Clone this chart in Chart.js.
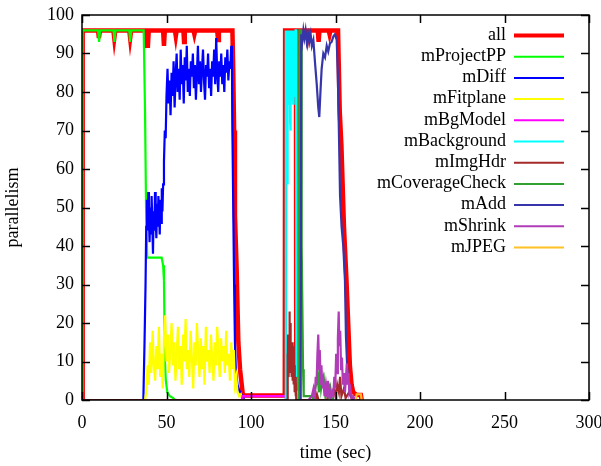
<!DOCTYPE html>
<html>
<head>
<meta charset="utf-8">
<script src="https://cdn.jsdelivr.net/npm/chart.js@4.4.1/dist/chart.umd.min.js"></script>
<style>
  html, body { margin: 0; padding: 0; background: #fff; }
  #wrap { width: 601px; height: 466px; }
</style>
</head>
<body>
<div id="wrap"><canvas id="chart"></canvas></div>
<script>
// series names and colours (legend order)
const seriesNames = ['all', 'mProjectPP', 'mDiff', 'mFitplane', 'mBgModel', 'mBackground',
  'mImgHdr', 'mCoverageCheck', 'mAdd', 'mShrink', 'mJPEG'];
const seriesColors = ['#ff0000', '#00ff00', '#0000ff', '#ffff00', '#ff00ff', '#00ffff',
  '#a52a2a', '#30a030', '#3636aa', '#b03cb8', '#ffc125'];

const xTicks = [0, 50, 100, 150, 200, 250, 300];
const yTicks = [0, 10, 20, 30, 40, 50, 60, 70, 80, 90, 100];

// [time (sec), parallelism]
const all = [[0,0],[0.4,96],[9.5,96],[10,94],[10.6,96],[18.6,96],[19.1,94],[19.7,96],[28,96],[28.5,94],
  [29.1,96],[37.5,96],[38,92],[39,92],[39.5,96],[48,96],[48.5,92],[49,96],[55,96],[55.5,94.5],[56,96],
  [60,96],[60.4,93],[60.8,96],[66,96],[66.5,95],[67,96],[80,96],[80.5,93.5],[81,96],[89,96],[89.5,85],
  [90,70],[90.5,48],[91.5,34],[92.5,15],[93.5,8],[94.5,4],[95.2,1.2],[120,1.2],[120.2,96],[126.6,96],
  [126.8,3],[127.5,3],[127.7,96],[133,96],[133.5,94.5],[134,96],[139.5,96],[140,93],[140.5,96],[146,96],
  [146.5,95],[147,96],[151.5,96],[152.5,75],[153.5,66],[155,45],[156.5,31],[157.5,20],[158.5,9],
  [159.5,4],[160.5,2],[162.5,1.3],[165,1.3],[165.5,0]];

const mProjectPP = [[0,0],[0.3,96],[9.6,96],[10.1,93],[10.7,96],[18.7,96],[19.2,93],[19.8,96],[28,96],
  [28.5,93],[29.2,96],[36.5,96],[37.3,75],[37.9,50],[38.6,37],[47.1,37],[48,35],[48.5,31],[48.8,20],
  [49.1,10],[49.6,5],[50.5,2],[52,1],[54,0.5],[55,0]];

const mDiff = [[0,0],[36.3,0],[37,15],[37.6,30],[38,45],[38.4,52],[38.8,44],[39.2,54],[39.6,47],[40,41],
  [40.4,50],[40.8,43],[41.2,53],[41.6,46],[42,38],[42.4,49],[42.8,44],[43.2,54],[43.6,47],[44,42],
  [44.4,51],[44.8,45],[45.2,53],[45.6,48],[46,43],[46.4,52],[46.8,46],[47.2,55],[47.6,49],[48,56],
  [48.5,62],[49,70],[49.5,68],[50,79],[50.6,86],[51.2,77],[51.8,83],[52.4,74],[53,85],[53.6,79],
  [54.2,88],[54.8,76],[55.4,84],[56,90],[56.6,80],[57.2,86],[57.8,78],[58.4,91],[59,82],[59.6,87],
  [60.2,77],[60.8,89],[61.4,83],[62,92],[62.6,80],[63.2,86],[63.8,79],[64.4,88],[65,84],[65.6,90],
  [66.2,81],[66.8,87],[67.4,78],[68,85],[68.6,92],[69.2,82],[69.8,88],[70.4,80],[71,86],[71.6,91],
  [72.2,83],[72.8,78],[73.4,87],[74,84],[74.6,90],[75.2,81],[75.8,86],[76.4,79],[77,88],[77.6,84],
  [78.2,91],[78.8,82],[79.4,94],[80,85],[80.6,80],[81.2,88],[81.8,84],[82.4,90],[83,82],[83.6,87],
  [84.2,80],[84.8,89],[85.4,85],[86,91],[86.6,83],[87.2,88],[87.8,86],[88.3,92],[88.7,90],[89,70],
  [89.5,50],[90,30],[90.5,15],[91,8],[92,4],[93,2.5],[95,1],[96,0]];

const mFitplane = [[0,0],[37.3,0],[38,2],[38.8,9],[39.5,4],[40.3,15],[41,7],[41.8,18],[42.5,9],[43.3,5],
  [44,14],[44.8,8],[45.5,19],[46.3,6],[47,12],[47.8,3],[48.5,16],[49.2,22],[50,10],[50.8,17],[51.5,7],
  [52.3,13],[53,20],[53.8,9],[54.5,15],[55.3,5],[56,12],[56.8,19],[57.5,8],[58.3,14],[59,4],[59.8,17],
  [60.5,10],[61.3,21],[62,8],[62.8,13],[63.5,6],[64.3,18],[65,11],[65.8,3],[66.5,15],[67.3,9],[68,20],
  [68.8,12],[69.5,6],[70.3,16],[71,8],[71.8,14],[72.5,4],[73.3,19],[74,10],[74.8,13],[75.5,7],[76.3,17],
  [77,11],[77.8,5],[78.5,15],[79.3,9],[80,19],[80.8,12],[81.5,6],[82.3,16],[83,10],[83.8,14],[84.5,7],
  [85.3,18],[86,9],[86.8,12],[87.5,5],[88.3,15],[89,8],[89.8,13],[90.5,4],[91.3,6],[92,2],[93,1],
  [94,1.5],[95,0]];

const mBgModel = [[94.5,0],[95,1],[120.5,1],[120.7,0]];

const mBackground = [[120.4,0],[120.6,96],[120.75,80],[120.9,96],[121.05,78],[121.2,96],[121.35,70],
  [121.5,96],[121.65,56],[121.8,96],[121.95,79],[122.1,96],[122.25,82],[122.4,96],[122.55,77],[122.7,96],
  [122.85,80],[123,96],[123.15,72],[123.3,96],[123.45,70],[123.6,96],[123.75,79],[123.9,96],[124.05,81],
  [124.2,96],[124.35,78],[124.5,96],[124.65,80],[124.8,96],[124.95,77],[125.1,96],[125.25,82],[125.4,96],
  [125.55,79],[125.7,96],[125.85,84],[126,96],[126.2,88],[126.4,96],[126.7,96],[126.9,0]];

const mImgHdr = [[0,0],[121.5,0],[121.65,12],[121.8,5],[121.95,17],[122.1,8],[122.25,16],[122.4,6],
  [122.55,14],[122.7,9],[122.85,23],[123,10],[123.15,20],[123.3,7],[123.45,17],[123.6,9],[123.75,15],
  [123.9,6],[124.05,14],[124.2,8],[124.35,15],[124.5,5],[124.65,12],[124.8,6],[124.95,14],[125.1,4],
  [125.25,10],[125.4,5],[125.55,9],[125.7,3],[125.85,8],[126,2],[126.2,6],[126.4,1],[126.6,5],[126.8,0],
  [138,0],[139,1.5],[140,0],[145,0],[146,2],[147,0.5],[149,3],[150,1],[151,4],[152,2],[152.7,6],
  [153.5,1],[155,3],[156,0.5],[158,2],[160,0],[165,0]];

const mCoverageCheck = [[128.3,0],[128.6,96],[129.6,96],[130,40],[130.8,8],[131.2,1],[136,1],[137,0],
  [138,3],[139.5,6],[140.2,2],[140.8,9],[141.5,3],[142.2,5],[143,6],[144,1],[145,3],[146,0.5],[147,3],
  [148,0]];

const mAdd = [[129.4,0],[129.7,95],[130.3,93],[131,96],[131.6,94],[132.3,96],[133,93],[133.8,95],
  [134.5,93],[135.3,95],[136,92],[136.9,93.5],[137.9,87.5],[138.9,82],[139.8,76],[140.4,73.5],[141.2,81],
  [141.8,86],[142.8,90],[143.8,89],[144.8,92],[145.7,90.5],[146.7,92.6],[147.7,93],[148.7,94.4],
  [149.7,95],[150.7,93.5],[151.3,85.7],[151.7,77],[152,70],[152.7,53],[153.6,45],[154.6,40],[155.6,31],
  [156.2,16.4],[157,7.8],[158.6,1.7],[160,0.5],[161,0]];

const mShrink = [[134,0],[136,1],[137,3],[137.8,1],[138.3,6],[138.8,4],[139.3,12],[139.8,17],[140.3,8],
  [140.7,13],[141.2,4],[141.7,9],[142.2,3],[142.8,5],[143.5,1],[144.3,4],[145,1],[145.5,5],[146,2],
  [146.5,3],[147.2,0.5],[148,2],[148.7,1],[149.3,6],[149.8,3],[150.4,12],[150.9,7],[151.4,16],[151.9,23],
  [152.3,14],[152.8,18],[153.3,8],[153.8,11],[154.4,4],[155,7],[155.6,2],[156.2,6],[156.7,9.5],
  [157.2,4],[157.7,7],[158.2,2],[158.8,3],[159.5,0.5],[160.5,1],[161.5,0]];

const mJPEG = [[162,0],[162.5,1.5],[165,1.5],[165.5,0]];

const seriesData = [all, mProjectPP, mDiff, mFitplane, mBgModel, mBackground,
  mImgHdr, mCoverageCheck, mAdd, mShrink, mJPEG];

const FONT = 'Liberation Serif';

// gnuplot-like frame with inward ticks, plus the key inside the plot
const gnuFrame = {
  id: 'gnuFrame',
  afterDatasetsDraw(chart) {
    const { ctx, chartArea: a, scales: { x, y } } = chart;
    const tl = 8;
    ctx.save();
    ctx.strokeStyle = '#000';
    ctx.lineWidth = 1.5;
    ctx.strokeRect(a.left, a.top, a.right - a.left, a.bottom - a.top);
    ctx.beginPath();
    xTicks.forEach(v => {
      const px = Math.round(x.getPixelForValue(v)) + 0.5;
      ctx.moveTo(px, a.bottom); ctx.lineTo(px, a.bottom - tl);
      ctx.moveTo(px, a.top); ctx.lineTo(px, a.top + tl);
    });
    yTicks.forEach(v => {
      const py = Math.round(y.getPixelForValue(v)) + 0.5;
      ctx.moveTo(a.left, py); ctx.lineTo(a.left + tl, py);
      ctx.moveTo(a.right, py); ctx.lineTo(a.right - tl, py);
    });
    ctx.stroke();

    // key
    ctx.font = '18px "' + FONT + '"';
    ctx.textAlign = 'right';
    ctx.textBaseline = 'middle';
    ctx.fillStyle = '#000';
    seriesNames.forEach((name, i) => {
      const yy = 35 + i * 21.2;
      ctx.fillText(name, 506, yy);
      ctx.strokeStyle = seriesColors[i];
      ctx.lineWidth = i === 0 ? 4 : 2;
      ctx.beginPath();
      ctx.moveTo(514, yy + 0.5);
      ctx.lineTo(564, yy + 0.5);
      ctx.stroke();
    });
    ctx.restore();
  }
};

const ctx = document.getElementById('chart').getContext('2d');
new Chart(ctx, {
  type: 'line',
  data: {
    datasets: seriesNames.map((name, i) => ({
      label: name,
      data: seriesData[i].map(p => ({ x: p[0], y: p[1] })),
      borderColor: seriesColors[i],
      backgroundColor: seriesColors[i],
      borderWidth: i === 0 ? 4.5 : 2.2,
      pointRadius: 0,
      tension: 0,
      fill: false,
      order: seriesNames.length - i   // later series drawn on top, as gnuplot does
    }))
  },
  options: {
    responsive: true,
    maintainAspectRatio: false,
    animation: false,
    layout: { padding: { left: 0, top: 15, right: 12, bottom: 0 } },
    plugins: {
      legend: { display: false },
      tooltip: { enabled: false }
    },
    scales: {
      x: {
        type: 'linear',
        min: 0,
        max: 300,
        afterBuildTicks: s => { s.ticks = xTicks.map(v => ({ value: v })); },
        grid: { display: false, drawTicks: false },
        border: { display: false },
        ticks: { color: '#000', padding: 12, maxRotation: 0, font: { family: FONT, size: 18 } },
        title: { display: true, text: 'time (sec)', color: '#000', padding: { top: 0, bottom: 2 },
          font: { family: FONT, size: 18 } },
        afterFit: s => { s.height = 66; s.paddingLeft = 0; s.paddingRight = 0; }
      },
      y: {
        min: 0,
        max: 100,
        afterBuildTicks: s => { s.ticks = yTicks.map(v => ({ value: v })); },
        grid: { display: false, drawTicks: false },
        border: { display: false },
        ticks: { color: '#000', padding: 8, font: { family: FONT, size: 18 } },
        title: { display: true, text: 'parallelism', color: '#000', padding: { top: 2, bottom: 0 },
          font: { family: FONT, size: 18 } },
        afterFit: s => { s.width = 82; s.paddingTop = 0; s.paddingBottom = 0; }
      }
    }
  },
  plugins: [gnuFrame]
});
</script>
</body>
</html>
